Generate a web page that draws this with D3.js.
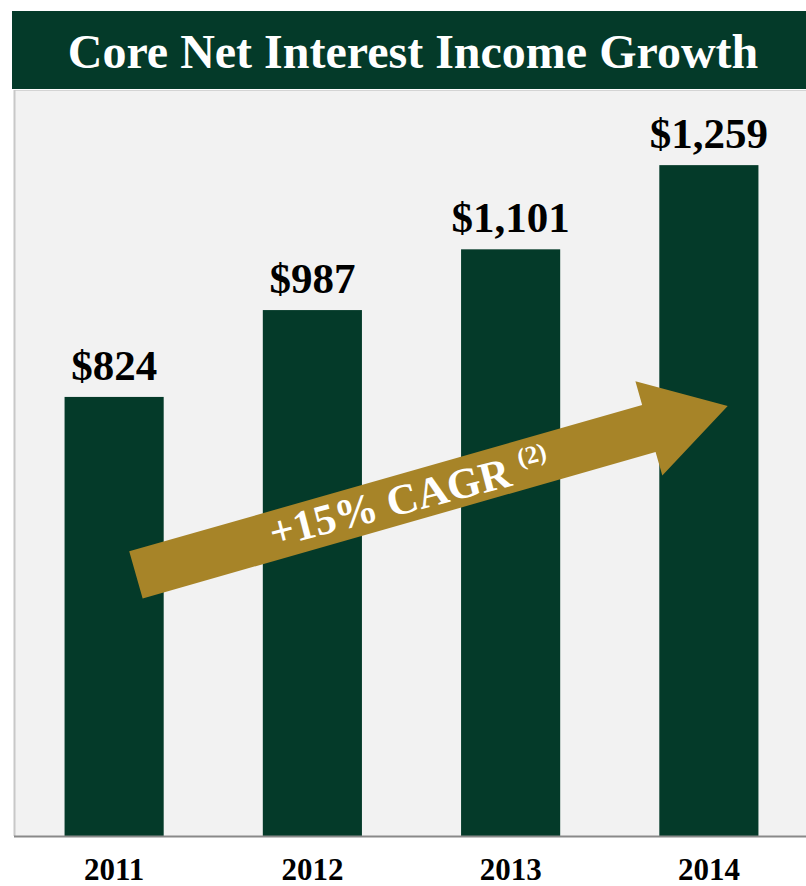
<!DOCTYPE html>
<html>
  <head>
    <style>
      body { margin: 0; background: #ffffff; }
      text { font-family: "Liberation Serif", "Times New Roman", serif; font-weight: bold; }
    </style>
  </head>
  <body>
    <div id="my_dataviz"></div>
  </body>
</html>

<script src="https://d3js.org/d3.v7.min.js"></script>

<script>

    // chart data
    var years = ["2011", "2012", "2013", "2014"];
    var values = [824, 987, 1101, 1259];
    var valueLabels = ["$824", "$987", "$1,101", "$1,259"];
    var titleText = "Core Net Interest Income Growth";
    var cagrText = "+15% CAGR";
    var cagrNote = "(2)";

    var green = "#043a29",
        gold = "#a78428";

    // dimensions of the page and the plot box
    var width = 806, height = 886;
    var plot = {left: 15, right: 808, top: 90, bottom: 836};

    var svg = d3.select("#my_dataviz")
      .append("svg")
        .attr("width", width)
        .attr("height", height);

    // title bar
    svg.append("rect")
      .attr("x", 12)
      .attr("y", 11)
      .attr("width", width - 12)
      .attr("height", 78)
      .attr("fill", green);
    svg.append("text")
      .attr("x", 413)
      .attr("y", 68)
      .attr("text-anchor", "middle")
      .attr("fill", "#ffffff")
      .style("font-size", "48px")
      .text(titleText);

    // plot background
    svg.append("rect")
      .attr("x", plot.left)
      .attr("y", plot.top)
      .attr("width", width - plot.left)
      .attr("height", plot.bottom - plot.top)
      .attr("fill", "#f2f2f2");
    svg.append("line")
      .attr("x1", plot.left).attr("x2", width)
      .attr("y1", plot.top + 0.5).attr("y2", plot.top + 0.5)
      .attr("stroke", "#d4d4d4");
    svg.append("line")
      .attr("x1", plot.left - 0.5).attr("x2", plot.left - 0.5)
      .attr("y1", plot.top).attr("y2", plot.bottom)
      .attr("stroke", "#c8c8c8")
      .attr("stroke-width", 2);

    // scales
    var x = d3.scaleBand()
      .domain(years)
      .range([plot.left, plot.right])
      .paddingInner(0.5)
      .paddingOuter(0.25);

    var y = d3.scaleLinear()
      .domain([0, 1400])
      .range([plot.bottom, plot.top]);

    // bars
    svg.selectAll("rect.bar")
      .data(years)
      .enter()
      .append("rect")
        .attr("class", "bar")
        .attr("x", function(d) { return x(d); })
        .attr("y", function(d, i) { return y(values[i]); })
        .attr("width", x.bandwidth())
        .attr("height", function(d, i) { return y(0) - y(values[i]); })
        .attr("fill", green);

    // value labels
    svg.selectAll("text.val")
      .data(years)
      .enter()
      .append("text")
        .attr("class", "val")
        .attr("x", function(d) { return x(d) + x.bandwidth() / 2; })
        .attr("y", function(d, i) { return y(values[i]) - 17; })
        .attr("text-anchor", "middle")
        .attr("fill", "#000000")
        .style("font-size", "43px")
        .text(function(d, i) { return valueLabels[i]; });

    // x axis line and labels
    var xAxis = svg.append("g")
      .attr("transform", "translate(0," + plot.bottom + ")")
      .call(d3.axisBottom(x).tickSize(0).tickPadding(0));
    xAxis.select(".domain")
      .attr("d", "M" + (plot.left - 1) + ",0.5H" + width)
      .attr("stroke", "#898989")
      .attr("stroke-width", 2);
    xAxis.selectAll("text")
      .attr("y", 44)
      .attr("dy", 0)
      .attr("fill", "#000000")
      .style("font-family", "'Liberation Serif', 'Times New Roman', serif")
      .style("font-weight", "bold")
      .style("font-size", "31px");

    // CAGR arrow, anchored on the first and last bars
    var tail = [x(years[0]) + x.bandwidth() * 0.72, y(490)];
    var tip = [x(years[3]) + x.bandwidth() * 0.69, y(807)];
    var dx = tip[0] - tail[0], dy = tip[1] - tail[1];
    var len = Math.sqrt(dx * dx + dy * dy);
    var angle = Math.atan2(dy, dx) * 180 / Math.PI;
    var shaft = 24.5, head = 49, headLen = 82;

    var arrow = svg.append("g")
      .attr("transform", "translate(" + tail[0] + "," + tail[1] + ")rotate(" + angle + ")");
    arrow.append("path")
      .attr("d", d3.line()([
        [0, -shaft], [len - headLen, -shaft], [len - headLen, -head], [len, 0],
        [len - headLen, head], [len - headLen, shaft], [0, shaft]
      ]) + "Z")
      .attr("fill", gold);

    var cagr = arrow.append("text")
      .attr("x", 284)
      .attr("y", 15)
      .attr("text-anchor", "middle")
      .attr("fill", "#ffffff")
      .attr("transform", "rotate(1.4,284,0)")
      .style("font-size", "43px");
    cagr.append("tspan").text(cagrText + " ");
    cagr.append("tspan")
      .attr("dy", -17)
      .style("font-size", "25px")
      .text(cagrNote);

</script>
